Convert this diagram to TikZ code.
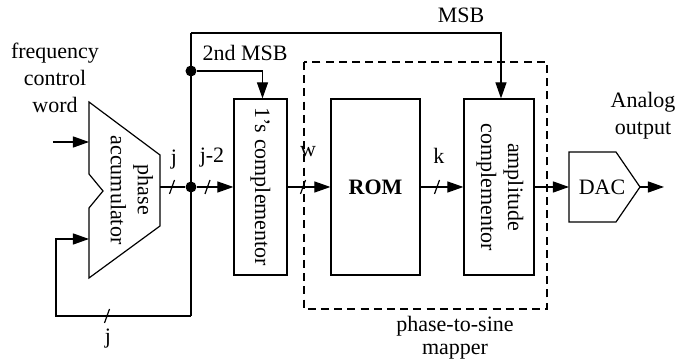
\documentclass[tikz,border=0pt]{standalone}
\usepackage{fontspec}
\setmainfont{Liberation Serif}
\usetikzlibrary{arrows.meta}
\begin{document}
\begin{tikzpicture}[x=0.5pt,y=-0.5pt,
  font=\fontsize{11}{13.5}\selectfont,
  line width=0.6pt,
  >={Triangle[length=8pt,width=5.5pt]},
  box/.style={draw,line width=0.6pt,inner sep=0pt,minimum width=#1},
  txt/.style={inner sep=0pt,align=center},
  vtxt/.style={inner sep=0pt,align=center,rotate=-90},
  dot/.style={circle,fill,inner sep=0pt,minimum size=5.5pt},
  dashbox/.style={draw,line width=0.8pt,dash pattern=on 4pt off 2.6pt}]
\useasboundingbox (0,0) rectangle (693,362);

% phase accumulator shape
\draw (89,102) -- (160,155) -- (160,226) -- (89,278) -- (89,208) -- (103,191) -- (89,174) -- cycle;
\node[vtxt] (acc) at (132,190) {phase\\accumulator};
\coordinate (accin1) at (89,142);
\coordinate (accin2) at (89,239);
\coordinate (accout) at (160,187);
\coordinate (fin) at (53,142);

% boxes
\node[box=26.5pt,minimum height=88pt] (oc) at (260.5,187) {};
\node[vtxt] (octxt) at (260.5,187) {1's complementor};
\node[box=44.5pt,minimum height=88pt,font=\fontsize{11}{13.5}\selectfont\bfseries] (rom) at (375.5,187) {ROM};
\node[box=35pt,minimum height=88pt] (amp) at (499,187) {};
\node[vtxt] (amptxt) at (500,187) {amplitude\\complementor};

% DAC
\draw (569,152) -- (616,152) -- (640,187) -- (616,222) -- (569,222) -- cycle;
\node[txt] (dac) at (602,187) {DAC};
\coordinate (dacin) at (569,187);
\coordinate (dacout) at (640,187);
\coordinate (out) at (664,187);

% dashed mapper box
\draw[dashbox] (304,62) rectangle (547,309);

% dots
\node[dot] (d1) at (191,187) {};
\node[dot] (d2) at (191,71) {};
\coordinate (top) at (191,33);
\coordinate (bot) at (191,316);
\coordinate (fbl) at (56,316);

% connectors
\draw[->] (fin) -- (accin1);
\draw (accout) -- (d1);
\draw[->] (d1) -- (oc.west);
\draw (bot) -- (top);
\draw[->] (top) -| ([xshift=1pt]amp.north);
\draw[->] (d2) -| ([xshift=1pt]oc.north);
\draw[->] (bot) -- (fbl) |- (accin2);
\draw[->] (oc.east) -- (rom.west);
\draw[->] (rom.east) -- (amp.west);
\draw[->] (amp.east) -- (dacin);
\draw[->] (dacout) -- (out);

% bus slashes
\foreach \x/\y in {172/187, 207.5/187, 303/187, 437/187, 107/316}
  \draw (\x-2.5,\y+7) -- (\x+2.5,\y-7);

% labels
\node[txt] (lj) at (174,160) {j};
\node[txt] (lj2) at (212,158) {j-2};
\node[txt] (lw) at (308,152) {w};
\node[txt] (lk) at (439,156) {k};
\node[txt] (lj3) at (108,339) {j};
\node[txt] (lmsb) at (461,15) {MSB};
\node[txt] (l2msb) at (245,53) {2nd MSB};
\node[txt,anchor=base] (lfcw) at (55,113) {frequency\\control\\word};
\node[txt,anchor=base] (lao) at (643,135) {Analog\\output};
\node[txt,anchor=base,font=\fontsize{11}{11.5}\selectfont] (lpm) at (455,355) {phase-to-sine\\mapper};
\end{tikzpicture}
\end{document}
